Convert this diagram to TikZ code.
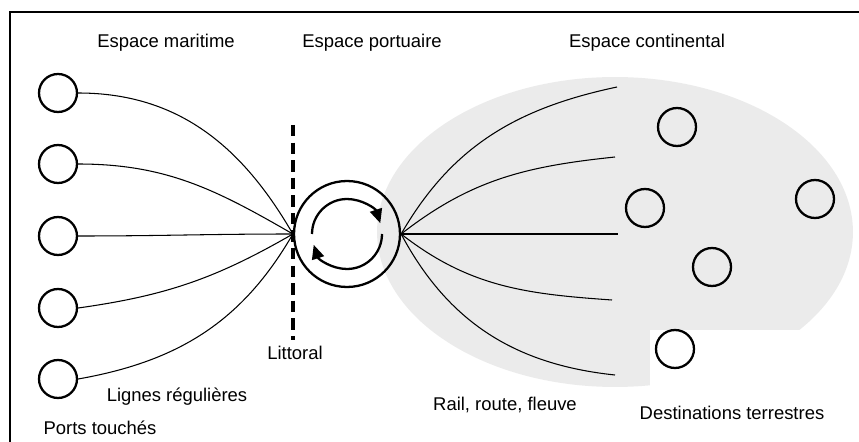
\documentclass[tikz,border=0pt]{standalone}
\usepackage{fontspec}
\setmainfont{Liberation Sans}
\usetikzlibrary{arrows.meta}
\tikzset{
  port/.style={circle,draw,line width=1.3pt,minimum size=0.76cm,inner sep=0pt},
  link/.style={line width=0.6pt},
  txt/.style={font=\fontsize{10.5}{12}\selectfont,inner sep=0pt}
}
\begin{document}
\begin{tikzpicture}[x=0.02cm,y=-0.02cm]
  \useasboundingbox (0,0) rectangle (859,442);
  \draw[line width=0.8pt] (10,442) -- (10,12) -- (859,12);
  % espace continental
  \fill[black!8] (615,232) ellipse[x radius=4.76cm,y radius=3.1cm];
  \fill[white] (650,330) rectangle (845,400);
  % port
  \node[circle,draw,line width=1.3pt,minimum size=2.12cm,inner sep=0pt] (hub) at (347,234) {};
  \draw[line width=1.3pt,-{Triangle[length=8pt,width=7pt]}] ([shift={(180:0.7cm)}]hub.center) arc[start angle=180,end angle=18,radius=0.7cm];
  \draw[line width=1.3pt,-{Triangle[length=8pt,width=7pt]}] ([shift={(0:0.7cm)}]hub.center) arc[start angle=0,end angle=-162,radius=0.7cm];
  \coordinate (lit1) at (293,125);
  \coordinate (lit2) at (293,340);
  \draw[line width=1.8pt,dash pattern=on 6.5pt off 3.5pt] (lit1) -- (lit2);
  % ports touches
  \foreach \i/\y/\o/\a in {1/93/0/120,2/164/0/150,3/236/0/180,4/308/8/210,5/379/10/240}{
    \node[port] (p\i) at (58,\y) {};
    \draw[link] (p\i.east) to[out=\o,in=\a] (hub.west);
  }
  % rail, route, fleuve
  \foreach \i/\x/\y/\o/\n in {1/617/87/60/192,2/615/157/38/186,3/618/234/0/180,4/612/300/-38/176,5/615/375/-62/174}{
    \coordinate (e\i) at (\x,\y);
    \draw[link] (hub.east) to[out=\o,in=\n] (e\i);
  }
  % destinations
  \node[port] (d1) at (677,127) {};
  \node[port] (d2) at (645,208) {};
  \node[port] (d3) at (815,199) {};
  \node[port] (d4) at (712,267) {};
  \node[port] (d5) at (675,349) {};
  % textes
  \node[txt] (mar) at (166,43) {Espace maritime};
  \node[txt] (por) at (372,43) {Espace portuaire};
  \node[txt] (con) at (647,43) {Espace continental};
  \node[txt] (lit) at (295,353) {Littoral};
  \node[txt] (lig) at (177,397) {Lignes régulières};
  \node[txt] (pts) at (100,428) {Ports touchés};
  \node[txt] (rrf) at (505,405) {Rail, route, fleuve};
  \node[txt] (dst) at (732,413) {Destinations terrestres};
\end{tikzpicture}
\end{document}
